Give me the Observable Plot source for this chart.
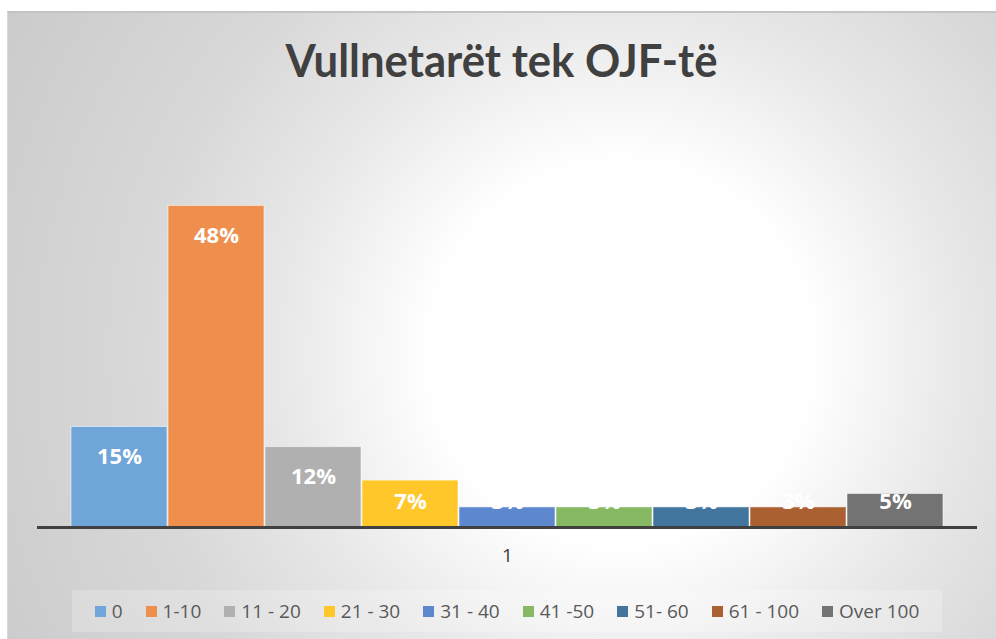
<!DOCTYPE html>
<html><head><meta charset="utf-8">
<script src="https://cdn.jsdelivr.net/npm/d3@7"></script>
<script src="https://cdn.jsdelivr.net/npm/@observablehq/plot@0.6"></script>
<style>
html,body{margin:0;padding:0;background:#fff;}
#page{position:relative;width:996px;height:639px;overflow:hidden;font-family:"Open Sans",sans-serif;}
#area{position:absolute;left:7px;top:11px;width:995px;height:640px;border-top:2px solid #c4c4c4;border-left:1px solid #d8d8d8;background:radial-gradient(circle at 613px 340px, #fff 0px, #fff 190px, #e8e8e8 340px, #d8d8d8 480px, #c8c8c8 750px);}
#title{position:absolute;left:7px;width:989px;top:28px;text-align:center;font-weight:700;font-size:46px;line-height:64px;color:#404040;font-family:"Lato","Open Sans",sans-serif;}
#title span{display:inline-block;transform-origin:center;}
#chart{position:absolute;left:0;top:0;}
#legend{position:absolute;left:72px;top:590px;width:870px;height:42px;background:rgba(255,255,255,0.22);display:flex;align-items:center;justify-content:center;}
#legend, #legend *{font-size:19px !important;color:#595959 !important;font-family:"Open Sans",sans-serif !important;}
#legend .lg-swatches{margin:0 !important;min-height:0 !important;}
#legend .lg-swatch{margin-right:23px !important;}
#legend .lg-swatch:last-child{margin-right:0 !important;}
#legend .lg-swatch > svg{margin-right:6px !important;}
</style>
</head><body>
<div id="page">
  <div id="area"></div>
  <div id="chart"></div>
  <div id="title"><span id="titletext"></span></div>
  <div id="legend"></div>
</div>
<script>
const titleText = "Vullnetarët tek OJF-të";
const groupLabel = ["1"];
const categories = ["0", "1-10", "11 - 20", "21 - 30", "31 - 40", "41 -50", "51- 60", "61 - 100", "Over 100"];
const values = [15, 48, 12, 7, 3, 3, 3, 3, 5];
const colors = ["#6FA5D9", "#EE8F4D", "#B0B0B0", "#FFC72A", "#5E88CD", "#87B965", "#43769F", "#AA6031", "#737373"];

document.getElementById("titletext").textContent = titleText;

const data = categories.map((c, i) => ({group: groupLabel[0], cat: c, value: values[i]}));

const chart = Plot.plot({
  width: 996,
  height: 580,
  marginLeft: 37,
  marginRight: 19,
  marginTop: 125,
  marginBottom: 53,
  style: {background: "transparent", overflow: "visible", fontSize: "19px", fontFamily: "'Open Sans', sans-serif", color: "#404040"},
  fx: {domain: groupLabel, padding: 0, axis: "bottom", label: null, tickSize: 0, tickPadding: 21},
  x: {domain: categories, paddingInner: 0.015, paddingOuter: 0.33, axis: null},
  y: {domain: [0, 60], axis: null},
  color: {domain: categories, range: colors},
  marks: [
    Plot.barY(data, {fx: "group", x: "cat", y: "value", fill: "cat", stroke: "white", strokeOpacity: 0.55, strokeWidth: 1}),
    Plot.ruleY([0], {stroke: "#404040", strokeWidth: 3}),
    Plot.text(data, {fx: "group", x: "cat", y: d => Math.max(d.value - 4.5, 3.75), text: d => d.value + "%", fill: "white", fontWeight: "bold", fontSize: 22})
  ]
});
document.getElementById("chart").appendChild(chart);

const legend = Plot.legend({
  color: {type: "ordinal", domain: categories, range: colors},
  swatchSize: 11,
  className: "lg",
  style: {fontSize: "19px", color: "#595959", fontFamily: "'Open Sans', sans-serif"}
});
document.getElementById("legend").appendChild(legend);

// fit title width to reference proportion
const t = document.getElementById("titletext");
const w = t.getBoundingClientRect().width;
t.style.transform = `scaleX(${432 / w})`;
</script>
</body></html>
